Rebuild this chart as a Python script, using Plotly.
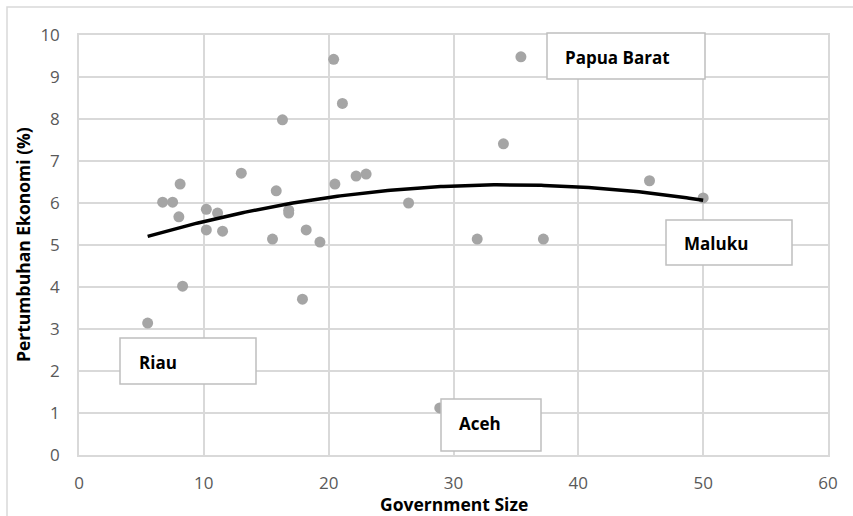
import numpy as np
import plotly.graph_objects as go

# Data: Government Size (x) vs Pertumbuhan Ekonomi (%) (y)
gov_size = [5.5, 8.3, 6.7, 7.5, 8.1, 8.0, 10.2, 10.2, 11.1, 11.5, 13.0, 15.8, 15.5, 16.3,
            16.8, 16.8, 17.9, 18.2, 19.3, 20.4, 21.1, 20.5, 22.2, 23.0, 26.4, 28.9,
            31.9, 34.0, 35.4, 37.2, 45.7, 50.0]
growth = [3.14, 4.02, 6.02, 6.02, 6.45, 5.67, 5.85, 5.36, 5.76, 5.33, 6.71, 6.29, 5.14, 7.98,
          5.83, 5.76, 3.71, 5.36, 5.07, 9.42, 8.37, 6.45, 6.64, 6.69, 6.00, 1.12,
          5.14, 7.41, 9.48, 5.14, 6.53, 6.12]

x_ticks = [0, 10, 20, 30, 40, 50, 60]
y_ticks = [0, 1, 2, 3, 4, 5, 6, 7, 8, 9, 10]

labels = ["Riau", "Aceh", "Papua Barat", "Maluku"]

# Layout geometry (pixels)
W, H = 853, 516
L, R, T, B = 79, 828, 35, 455


def px2paper(px, py):
    return (px - L) / (R - L), (B - py) / (B - T)


# label boxes in pixels: x0, x1, y0(top), y1(bottom), text-left-x, text-center-y
label_boxes = [
    (120, 256, 338, 384, 137, 362),
    (441, 541, 399, 451, 457, 423),
    (547, 705, 33, 79, 563, 57),
    (666, 792, 220, 265, 682, 243),
]

# Polynomial (order 2) trendline fitted to the data
coef = np.polyfit(gov_size, growth, 2)
xt = np.linspace(min(gov_size), max(gov_size), 200)
yt = np.polyval(coef, xt)

fig = go.Figure()
fig.add_trace(go.Scatter(
    x=gov_size, y=growth, mode="markers",
    marker=dict(color="#A5A5A5", size=11, line=dict(width=0)),
    showlegend=False, hoverinfo="x+y",
))
fig.add_trace(go.Scatter(
    x=xt, y=yt, mode="lines",
    line=dict(color="#000000", width=3.5),
    showlegend=False, hoverinfo="skip",
))

shapes = []
annotations = []
# outer chart border
bx0, by0 = px2paper(7, 7)
shapes.append(dict(type="rect", xref="paper", yref="paper",
                   x0=bx0, x1=1.2, y0=-0.5, y1=by0,
                   line=dict(color="#D9D9D9", width=1.5), fillcolor="rgba(0,0,0,0)",
                   layer="below"))
for txt, (x0, x1, y0, y1, tx, ty) in zip(labels, label_boxes):
    px0, py0 = px2paper(x0, y0)
    px1, py1 = px2paper(x1, y1)
    shapes.append(dict(type="rect", xref="paper", yref="paper",
                       x0=px0, x1=px1, y0=py1, y1=py0,
                       line=dict(color="#BFBFBF", width=1.5), fillcolor="white",
                       layer="above"))
    ax, ay = px2paper(tx, ty)
    annotations.append(dict(text=txt, xref="paper", yref="paper", x=ax, y=ay,
                            xanchor="left", yanchor="middle", showarrow=False,
                            font=dict(family="Open Sans", size=17, color="#000000",
                                      weight="bold")))

# axis titles
gx, gy = px2paper((L + R) / 2, 504)
annotations.append(dict(text="<b>Government Size</b>", xref="paper", yref="paper",
                        x=gx, y=gy, xanchor="center", yanchor="middle", showarrow=False,
                        font=dict(family="Open Sans", size=17.5, color="#000000")))
yx, yy = px2paper(23, (T + B) / 2)
annotations.append(dict(text="<b>Pertumbuhan Ekonomi (%)</b>", xref="paper", yref="paper",
                        x=yx, y=yy, xanchor="center", yanchor="middle", showarrow=False,
                        textangle=-90,
                        font=dict(family="Open Sans", size=17.5, color="#000000")))

fig.update_layout(
    width=W, height=H,
    margin=dict(l=L, r=W - R, t=T, b=H - B, autoexpand=False),
    paper_bgcolor="white", plot_bgcolor="white",
    font=dict(family="Open Sans", size=17, color="#595959"),
    shapes=shapes, annotations=annotations,
    xaxis=dict(range=[0, 60], tickvals=x_ticks, ticktext=[str(v) for v in x_ticks],
               showgrid=True, gridcolor="#D9D9D9", gridwidth=1.5, automargin=False,
               zeroline=False, showline=True, linecolor="#D9D9D9", linewidth=1.5,
               mirror=True, ticks="", ticklabelstandoff=12,
               tickfont=dict(size=17, color="#595959")),
    yaxis=dict(range=[0, 10], tickvals=y_ticks, ticktext=[str(v) for v in y_ticks],
               showgrid=True, gridcolor="#D9D9D9", gridwidth=1.5, automargin=False,
               zeroline=False, showline=True, linecolor="#D9D9D9", linewidth=1.5,
               mirror=True, ticks="", ticklabelstandoff=14,
               tickfont=dict(size=17, color="#595959")),
)

fig.write_html("out.html", config={"displayModeBar": False},
               post_script="document.body.style.margin='0';document.body.style.overflow='hidden';")
